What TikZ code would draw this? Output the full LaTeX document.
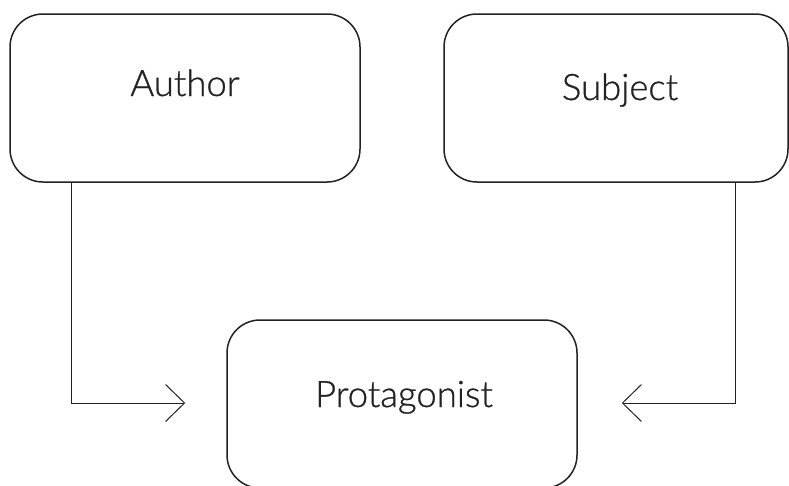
\documentclass[tikz,border=0pt]{standalone}
\usepackage{fontspec}
\setmainfont{Lato}[UprightFont=* Light, UprightFeatures={FakeBold=0.8}]
\usetikzlibrary{arrows.meta}
\definecolor{ink}{HTML}{222222}
\tikzset{
  box/.style={draw=ink, line width=1.5pt, rounded corners=33pt,
    minimum width=#1, minimum height=168pt, inner sep=0pt},
  box/.default=350pt,
  caption/.style={anchor=base, text=ink, font=\fontsize{36.5}{44}\selectfont, inner sep=0pt},
  link/.style={draw=ink, line width=1pt,
    -{Straight Barb[length=19pt, width=37pt, line width=1pt]}}
}
\begin{document}
\begin{tikzpicture}[x=1pt, y=-1pt]
  \useasboundingbox (0,0) rectangle (789,485);
  % boxes
  \node[box] (author) at (185,98) {};
  \node[box=344pt] (subject) at (616,98) {};
  \node[box] (protagonist) at (402,404) {};
  % captions
  \node[caption] (authortext) at (185,96) {Author};
  \node[caption] (subjecttext) at (620,100) {Subject};
  \node[caption] (protagonisttext) at (404,407) {Protagonist};
  % arrow ends
  \coordinate (leftin) at ([xshift=-41pt, yshift=1pt]protagonist.west);
  \coordinate (rightin) at ([xshift=44pt, yshift=1pt]protagonist.east);
  % connectors
  \draw[link] ([xshift=-114pt]author.south) |- (leftin);
  \draw[link] ([xshift=119pt]subject.south) |- (rightin);
\end{tikzpicture}
\end{document}
